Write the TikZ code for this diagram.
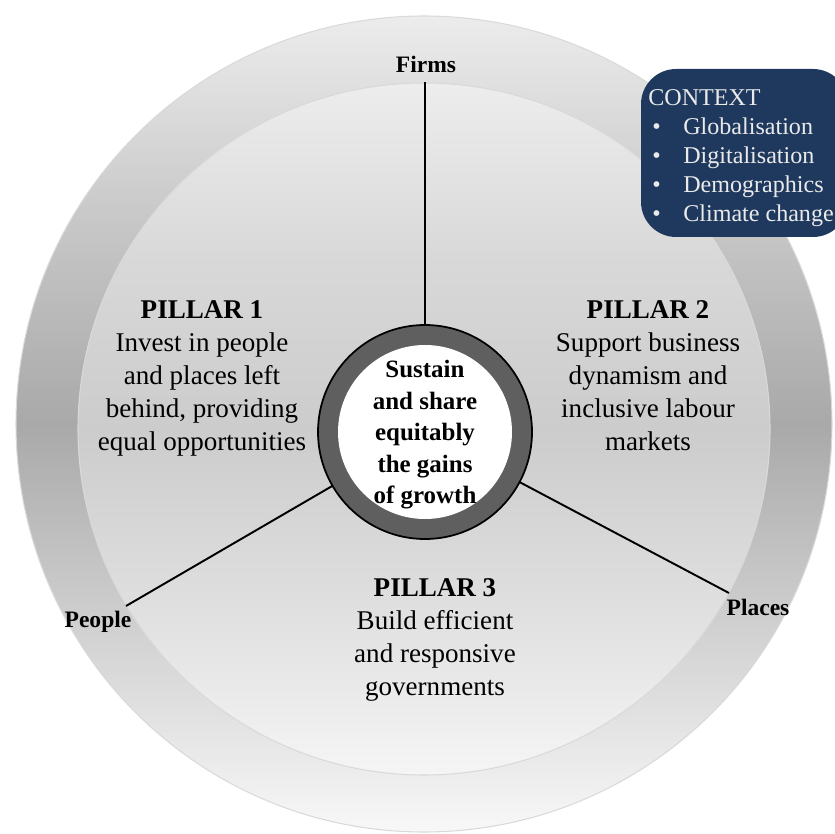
\documentclass[tikz,border=0pt]{standalone}
\usepackage{fontspec}
\setmainfont{Liberation Serif}

\definecolor{ctxblue}{RGB}{31,57,94}
\definecolor{ctxtext}{HTML}{EAEAEA}
\definecolor{coregray}{HTML}{5F5F5F}
\definecolor{outertop}{HTML}{ECECEC}
\definecolor{outerhigh}{HTML}{C6C6C6}
\definecolor{outermid}{HTML}{A9A9A9}
\definecolor{outerlow}{HTML}{CFCFCF}
\definecolor{outerbot}{HTML}{F8F8F8}
\definecolor{innertop}{HTML}{EDEDED}
\definecolor{innerhigh}{HTML}{D8D8D8}
\definecolor{innermid}{HTML}{CCCCCC}
\definecolor{innerlow}{HTML}{DEDEDE}
\definecolor{innerbot}{HTML}{F5F5F5}

\pgfdeclareverticalshading{outershade}{100bp}{color(0bp)=(outerbot); color(25bp)=(outerbot); color(38bp)=(outerlow); color(50bp)=(outermid); color(62bp)=(outerhigh); color(75bp)=(outertop); color(100bp)=(outertop)}
\pgfdeclareverticalshading{innershade}{100bp}{color(0bp)=(innerbot); color(25bp)=(innerbot); color(38bp)=(innerlow); color(50bp)=(innermid); color(62bp)=(innerhigh); color(75bp)=(innertop); color(100bp)=(innertop)}

\newcommand\ctxitem[1]{\makebox[0.7cm][l]{\hspace{0.08cm}\textbullet}#1}

\tikzset{
  pillar/.style={align=center, inner sep=0pt, anchor=north,
    font=\fontsize{15.4}{18.8}\selectfont},
  corelabel/.style={align=center, inner sep=0pt, anchor=north,
    font=\fontsize{14.2}{17.9}\selectfont\bfseries},
  spokelabel/.style={inner sep=0pt, anchor=base,
    font=\fontsize{13.4}{16}\selectfont\bfseries},
  spoke/.style={line width=1.1pt, black},
  ctxlist/.style={align=left, inner sep=0pt, anchor=north west, text=ctxtext,
    font=\fontsize{13.7}{16.5}\selectfont}
}

\begin{document}
\begin{tikzpicture}[x=0.02cm, y=-0.02cm]
    \useasboundingbox (0,0) rectangle (835,834);

    % Discs
    \shade[shading=outershade, draw=gray!30, line width=0.6pt] (424,424) circle (408);
    \shade[shading=innershade, draw=gray!30, line width=0.6pt] (424,429) circle (346);

    % Spokes
    \coordinate (hub) at (425,432);
    \coordinate (firmsEnd) at (425,82);
    \coordinate (peopleEnd) at (126,606);
    \coordinate (placesEnd) at (729,593);
    \foreach \e in {firmsEnd, peopleEnd, placesEnd}
        \draw[spoke] (hub) -- (\e);

    % Core ring
    \filldraw[fill=coregray, draw=black, line width=1pt] (hub) circle (107);
    \fill[white] (hub) circle (87);
    \node[corelabel] (core) at (425,360)
        {Sustain\\ and share\\ equitably\\ the gains\\ of growth};

    % Spoke labels
    \node[spokelabel] (firms) at (426,73) {Firms};
    \node[spokelabel] (people) at (98,627) {People};
    \node[spokelabel] (places) at (758,615) {Places};

    % Pillars
    \node[pillar] (pillarA) at (202,300)
        {\textbf{PILLAR 1}\\ Invest in people\\ and places left\\ behind, providing\\ equal opportunities};
    \node[pillar] (pillarB) at (648,300)
        {\textbf{PILLAR 2}\\ Support business\\ dynamism and\\ inclusive labour\\ markets};
    \node[pillar] (pillarC) at (435,578)
        {\textbf{PILLAR 3}\\ Build efficient\\ and responsive\\ governments};

    % Context box
    \fill[ctxblue, rounded corners=20] (641,69) rectangle (848,237);
    \node[ctxlist] (context) at (648,89)
        {CONTEXT\\ \ctxitem{Globalisation}\\ \ctxitem{Digitalisation}\\
         \ctxitem{Demographics}\\ \ctxitem{Climate change}};
\end{tikzpicture}
\end{document}
